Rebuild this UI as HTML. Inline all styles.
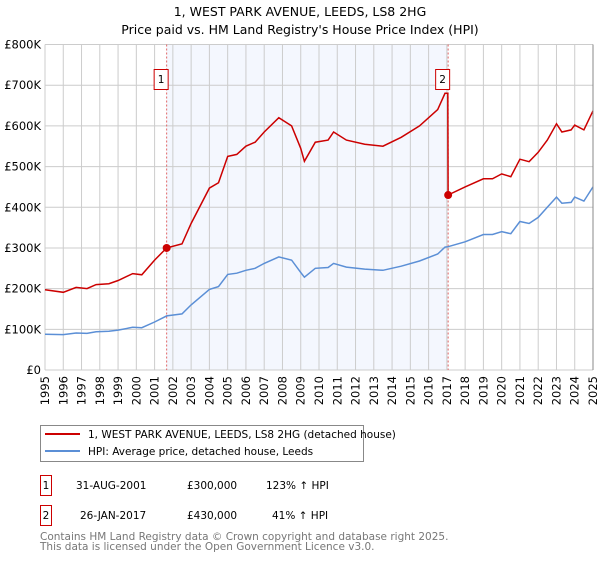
<!DOCTYPE html>
<html><head><meta charset="utf-8"><style>
body{margin:0;background:#fff;font-family:"Liberation Sans","DejaVu Sans",sans-serif}
svg text{font-family:"DejaVu Sans","Liberation Sans",sans-serif}
</style></head><body>
<svg id="c" width="600" height="560" xmlns="http://www.w3.org/2000/svg">
<text x="300" y="16" text-anchor="middle" font-size="12.5">1, WEST PARK AVENUE, LEEDS, LS8 2HG</text>
<text x="300" y="34" text-anchor="middle" font-size="12.5">Price paid vs. HM Land Registry's House Price Index (HPI)</text>
<g id="plot"></g>
<g>
<rect x="40.5" y="425.5" width="323" height="36" fill="#fff" stroke="#888"/>
<line x1="45" y1="434" x2="80" y2="434" stroke="#cc0000" stroke-width="2"/>
<text x="88" y="438" font-size="10.5">1, WEST PARK AVENUE, LEEDS, LS8 2HG (detached house)</text>
<line x1="45" y1="451" x2="80" y2="451" stroke="#5b8fd6" stroke-width="2"/>
<text x="88" y="455" font-size="10.5">HPI: Average price, detached house, Leeds</text>
</g>
<g font-size="10.5">
<rect x="40.5" y="475.5" width="11" height="20" fill="#fff" stroke="#cc0000"/><text x="46" y="489" text-anchor="middle">1</text>
<text x="76" y="489">31-AUG-2001</text><text x="187" y="489">£300,000</text><text x="266" y="489">123% ↑ HPI</text>
<rect x="40.5" y="505.5" width="11" height="20" fill="#fff" stroke="#cc0000"/><text x="46" y="519" text-anchor="middle">2</text>
<text x="80" y="519">26-JAN-2017</text><text x="187" y="519">£430,000</text><text x="272" y="519">41% ↑ HPI</text>
</g>
<text x="40" y="540" font-size="10.5" fill="#777">Contains HM Land Registry data © Crown copyright and database right 2025.</text>
<text x="40" y="550" font-size="10.5" fill="#777">This data is licensed under the Open Government Licence v3.0.</text>
</svg>
<script>
const years=[1995,1996,1997,1998,1999,2000,2001,2002,2003,2004,2005,2006,2007,2008,2009,2010,2011,2012,2013,2014,2015,2016,2017,2018,2019,2020,2021,2022,2023,2024,2025];
const yTicks=[0,100,200,300,400,500,600,700,800];
const yTickLabels=["£0","£100K","£200K","£300K","£400K","£500K","£600K","£700K","£800K"];
const hpiDates=[1995.0,1996.0,1996.7,1997.3,1997.8,1998.5,1999.0,1999.8,2000.3,2001.0,2001.66,2002.5,2003.0,2004.0,2004.5,2005.0,2005.5,2006.0,2006.5,2007.0,2007.8,2008.5,2009.0,2009.2,2009.8,2010.5,2010.8,2011.5,2012.5,2013.5,2014.5,2015.5,2016.5,2016.9,2017.07,2018,2019,2019.5,2020,2020.5,2021,2021.5,2022,2022.5,2023,2023.3,2023.8,2024,2024.5,2025];
const hpiValues=[88,87,91,90,94,95,98,105,104,118,133,138,160,198,205,235,238,245,250,262,278,270,240,228,250,252,262,253,248,245,255,268,285,302,303,315,333,333,340,335,365,360,375,400,425,410,412,425,415,450];
const priceDates=[1995.0,1996.0,1996.7,1997.3,1997.8,1998.5,1999.0,1999.8,2000.3,2001.0,2001.66,2002.5,2003.0,2004.0,2004.5,2005.0,2005.5,2006.0,2006.5,2007.0,2007.8,2008.5,2009.0,2009.2,2009.8,2010.5,2010.8,2011.5,2012.5,2013.5,2014.5,2015.5,2016.5,2016.9,2017.05,2017.07,2018,2019,2019.5,2020,2020.5,2021,2021.5,2022,2022.5,2023,2023.3,2023.8,2024,2024.5,2025];
const priceValues=[197,191,203,200,210,212,220,237,234,270,300,310,360,447,460,525,530,550,560,585,620,600,545,513,560,565,585,565,555,550,572,600,640,680,680,430,450,470,470,482,475,518,512,535,565,605,585,590,602,590,637];
const saleDates=[2001.66,2017.07];
const saleValues=[300,430];
const saleLabels=["1","2"];
const X0=45,X1=593,Y0=370,Y1=44.5;
const xs=d=>X0+(d-1995)/30*(X1-X0);
const ys=v=>Y0-v/800*(Y0-Y1);
const NS="http://www.w3.org/2000/svg";
const g=document.getElementById('plot');
function mk(t,a){const e=document.createElementNS(NS,t);for(const k in a)e.setAttribute(k,a[k]);g.appendChild(e);return e;}
let e=mk('rect',{x:xs(saleDates[0]),y:Y1,width:xs(saleDates[1])-xs(saleDates[0]),height:Y0-Y1,fill:'#f4f7fe'});


years.forEach(y=>{const l=mk('line',{x1:xs(y),x2:xs(y),y1:Y1,y2:Y0,stroke:'#ccc'});


const t=mk('text',{x:0,y:0,'font-size':11.5,'text-anchor':'end',transform:`translate(${xs(y)+4},${Y0+6}) rotate(-90)`});t.textContent=y;

});
yTicks.forEach((v,i)=>{const l=mk('line',{x1:X0,x2:X1,y1:ys(v),y2:ys(v),stroke:'#ccc'});


const t=mk('text',{x:X0-4,y:ys(v)+4,'font-size':11.5,'text-anchor':'end'});t.textContent=yTickLabels[i];

});
saleDates.forEach((d,i)=>{const l=mk('line',{x1:xs(d),x2:xs(d),y1:Y1,y2:Y0,stroke:'#e06666','stroke-dasharray':'2,2'});

});
const path=(D,V)=>D.map((d,i)=>(i?'L':'M')+xs(d).toFixed(1)+','+ys(V[i]).toFixed(1)).join('');
e=mk('path',{d:path(hpiDates,hpiValues),fill:'none',stroke:'#5b8fd6','stroke-width':1.5});


e=mk('path',{d:path(priceDates,priceValues),fill:'none',stroke:'#cc0000','stroke-width':1.5});


saleDates.forEach((d,i)=>{const c=mk('circle',{cx:xs(d),cy:ys(saleValues[i]),r:4,fill:'#cc0000'});


const r=mk('rect',{x:xs(d)-12.5,y:69.5,width:14,height:20,fill:'#fff',stroke:'#cc0000'});


const t=mk('text',{x:xs(d)-5.5,y:83,'font-size':10.5,'text-anchor':'middle'});t.textContent=saleLabels[i];

});
e=mk('line',{x1:X1,x2:X1,y1:Y1,y2:Y0,stroke:'#888'});


</script>
</body></html>
